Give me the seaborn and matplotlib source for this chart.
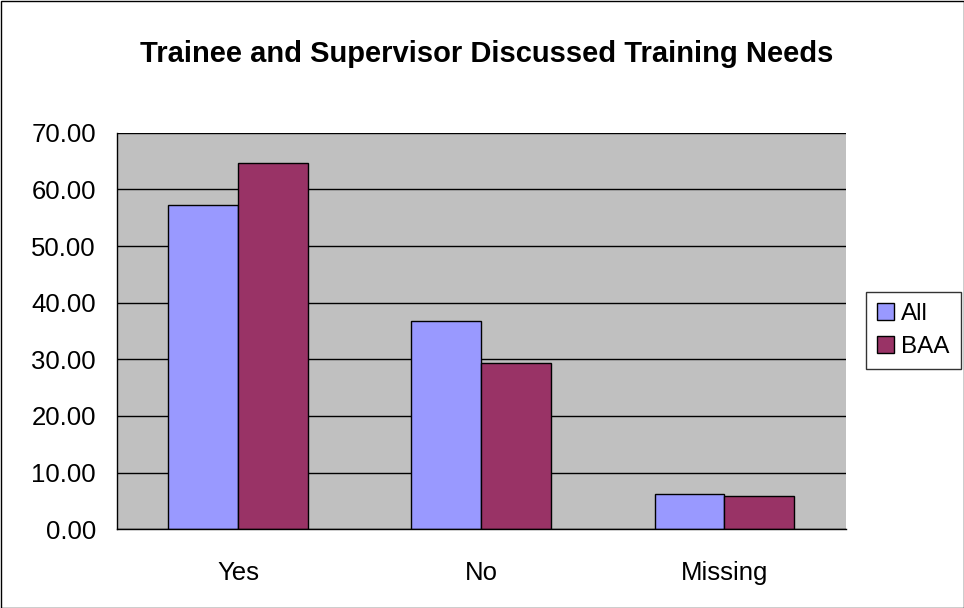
import matplotlib
matplotlib.use("Agg")
import matplotlib.pyplot as plt
import seaborn as sns
import pandas as pd
from matplotlib.patches import Rectangle

categories = ["Yes", "No", "Missing"]
series_names = ["All", "BAA"]
all_values = [57.3, 36.7, 6.2]
baa_values = [64.7, 29.3, 5.9]
y_ticks = [0, 10, 20, 30, 40, 50, 60, 70]
title = "Trainee and Supervisor Discussed Training Needs"

df = pd.DataFrame({
    "category": categories * 2,
    "series": [series_names[0]] * 3 + [series_names[1]] * 3,
    "value": all_values + baa_values,
})

sns.set_style("white")
plt.rcParams["font.family"] = ["Liberation Sans", "DejaVu Sans"]
plt.rcParams["text.color"] = "black"
plt.rcParams["xtick.color"] = "black"
plt.rcParams["ytick.color"] = "black"

fig = plt.figure(figsize=(9.64, 6.08), dpi=100)
ax = fig.add_axes([116.7 / 964, 1 - 529.3 / 608, (846 - 116.7) / 964, (529.3 - 132.7) / 608])
ax.set_facecolor("#C0C0C0")

sns.barplot(data=df, x="category", y="value", hue="series", order=categories,
            hue_order=series_names, palette=["#9999FF", "#993366"],
            width=0.575, gap=0, edgecolor="black", linewidth=1.0,
            saturation=1, ax=ax, legend=True, errorbar=None)

ax.set_xlim(-0.5, 2.5)
ax.set_ylim(0, 70)
ax.set_yticks(y_ticks)
ax.set_yticklabels([f"{v:.2f}" for v in y_ticks], fontsize=18.5, color="black")
ax.yaxis.grid(True, color="black", linewidth=1.0)
ax.set_axisbelow(True)
ax.set_xticks(range(len(categories)))
ax.set_xticklabels(categories, fontsize=18.5, color="black")
ax.tick_params(axis="x", which="major", length=0, pad=23)
ax.set_xticks([-0.5, 0.5, 1.5, 2.5], minor=True)
ax.tick_params(axis="x", which="minor", length=6, width=1, color="black", direction="out")
ax.tick_params(axis="y", which="major", length=6, width=1, color="black", direction="out", pad=9)
ax.set_xlabel("")
ax.set_ylabel("")
for s in ["top", "right"]:
    ax.spines[s].set_visible(False)
for s in ["left", "bottom"]:
    ax.spines[s].set_color("black")
    ax.spines[s].set_linewidth(1.0)

leg = ax.legend(loc="upper left", bbox_to_anchor=(866 / 964, 1 - 292 / 608),
                bbox_transform=fig.transFigure, frameon=True, fontsize=17.5,
                handlelength=0.7, handleheight=0.7, handletextpad=0.3,
                borderpad=0.45, labelspacing=0.45, fancybox=False, borderaxespad=0)
leg.get_frame().set_edgecolor("black")
leg.get_frame().set_linewidth(1.0)
for h in leg.legend_handles:
    h.set_edgecolor("black")

fig.text(487 / 964, 1 - 62 / 608, title, ha="center", va="baseline",
         fontsize=21, fontweight="bold")

fig.patches.append(Rectangle((0.5 / 964, 0.5 / 608), 963 / 964, 607 / 608,
                             transform=fig.transFigure, fill=False,
                             edgecolor="black", linewidth=1.0))

fig.savefig("out.png", dpi=100)
